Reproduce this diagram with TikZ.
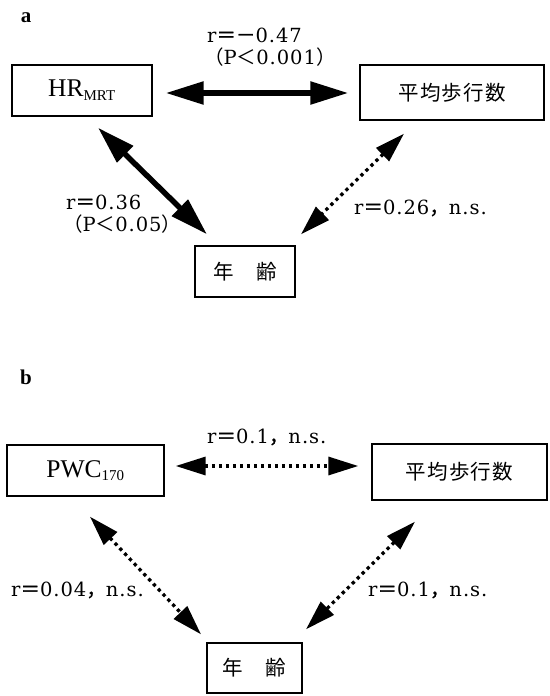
\documentclass[tikz,border=0pt]{standalone}
\usepackage{fontspec}
\setmainfont{Liberation Serif}
\newfontfamily\cjk{Noto Sans CJK JP}
\newfontfamily\cjkfb{Noto Sans CJK JP}[FakeBold=1.5]
\newfontfamily\lab{DejaVu Serif}[LetterSpace=5]
\newfontfamily\cjkbox{Noto Sans CJK JP}[LetterSpace=6]
\usetikzlibrary{arrows.meta,calc}
\newcommand{\zeq}{{\cjkfb ＝}}
\newcommand{\zcm}{{\cjkfb ，}}
\newcommand{\zlt}{{\cjk ＜}}
\newcommand{\zlp}{{\cjk （}}
\newcommand{\zrp}{{\cjk ）}}
\newcommand{\zmi}{{\cjkfb －}}
\begin{document}
\begin{tikzpicture}[x=1pt,y=-1pt,
  box/.style={draw,line width=1.4pt,inner sep=0pt},
  latinbox/.style={box,font=\fontsize{25.5}{28}\selectfont},
  cjkboxtext/.style={box,font=\cjkbox\fontsize{20.5}{24}\selectfont},
  boldarrow/.style={line width=5.5pt,{Triangle[length=38pt,width=22pt]}-{Triangle[length=38pt,width=22pt]}},
  dotarrow/.style={line width=3.3pt,dash pattern=on 3.3pt off 3.7pt,{Triangle[length=30pt,width=18pt]}-{Triangle[length=30pt,width=18pt]}},
  lbl/.style={anchor=west,inner sep=0pt,font=\lab\fontsize{19.5}{23}\selectfont},
  panel/.style={anchor=center,inner sep=0pt,font=\bfseries\fontsize{21}{24}\selectfont}]
\useasboundingbox (0,0) rectangle (549,696);
\fill[white] (0,0) rectangle (549,696);

% ---------- panel a ----------
\node[panel] (pa) at (26,18) {a};
\node[latinbox,minimum width=140pt,minimum height=51pt] (hr) at (82,90.5) {HR\textsubscript{\fontsize{15}{16}\selectfont MRT}};
\node[cjkboxtext,minimum width=184pt,minimum height=55pt] (ha) at (452,92.5) {平均歩行数};
\node[cjkboxtext,minimum width=100pt,minimum height=51pt] (na) at (245,271.5) {年　齢};

\draw[boldarrow] ($(hr.east)+(13,2.5)$) -- ($(ha.west)+(-11,0.5)$);
\draw[boldarrow] ($(hr.south)+(16,11)$) -- ($(na.north)+(-38,-11)$);
\draw[dotarrow] ($(ha.south)+(-48,13)$) -- ($(na.north)+(56,-11)$);

\node[lbl] (la1) at (207,35) {r\zeq\zmi 0.47};
\node[lbl] (la2) at (204,57) {\zlp P\zlt 0.001\zrp};
\node[lbl] (la3) at (66,202) {r\zeq 0.36};
\node[lbl] (la4) at (63,224) {\zlp P\zlt 0.05\zrp};
\node[lbl] (la5) at (354,208) {r\zeq 0.26\zcm n.s.};

% ---------- panel b ----------
\node[panel] (pb) at (26,377) {b};
\node[latinbox,minimum width=157pt,minimum height=51pt] (pwc) at (85.5,470.5) {PWC\textsubscript{\fontsize{15}{16}\selectfont 170}};
\node[cjkboxtext,minimum width=175pt,minimum height=56pt] (hb) at (459.5,472) {平均歩行数};
\node[cjkboxtext,minimum width=95pt,minimum height=50pt] (nb) at (254.5,668) {年　齢};

\draw[dotarrow] ($(pwc.east)+(11,-4.5)$) -- ($(hb.west)+(-13,-6)$);
\draw[dotarrow] ($(pwc.south)+(4.5,20)$) -- ($(nb.north)+(-53.5,-8)$);
\draw[dotarrow] ($(hb.south)+(-44.5,21)$) -- ($(nb.north)+(51.5,-13)$);

\node[lbl] (lb1) at (207,437) {r\zeq 0.1\zcm n.s.};
\node[lbl] (lb2) at (11,590) {r\zeq 0.04\zcm n.s.};
\node[lbl] (lb3) at (368,590) {r\zeq 0.1\zcm n.s.};
\end{tikzpicture}
\end{document}
